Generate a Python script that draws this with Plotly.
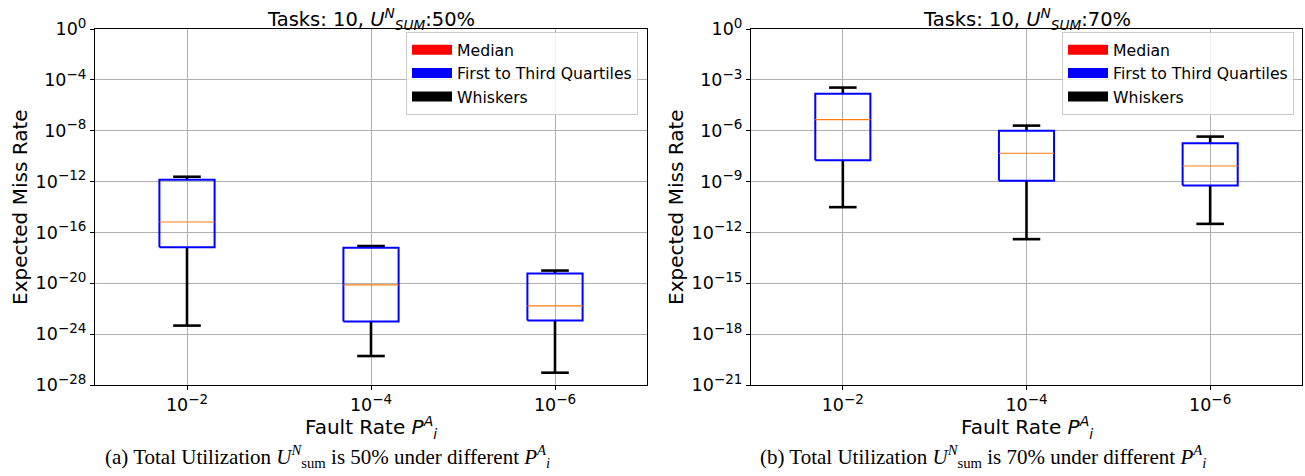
import plotly.graph_objects as go

# ---------------- data ----------------
categories = ["10<sup>−2</sup>", "10<sup>−4</sup>", "10<sup>−6</sup>"]

# Panel (a): U_sum = 50%
a_upper = [2.4e-12, 8.5e-18, 1.0e-19]
a_q3 = [1.4e-12, 6.3e-18, 5.8e-20]
a_median = [6.6e-16, 7.4e-21, 1.7e-22]
a_q1 = [6.8e-18, 1.0e-23, 1.2e-23]
a_lower = [4.7e-24, 1.9e-26, 9.3e-28]

# Panel (b): U_sum = 70%
b_upper = [3.5e-4, 2.0e-6, 4.5e-7]
b_q3 = [1.5e-4, 9.8e-7, 1.8e-7]
b_median = [4.5e-6, 4.7e-8, 8.3e-9]
b_q1 = [1.8e-8, 1.1e-9, 5.8e-10]
b_lower = [3.1e-11, 4.0e-13, 3.2e-12]

a_yticks_exp = [0, -4, -8, -12, -16, -20, -24, -28]
b_yticks_exp = [0, -3, -6, -9, -12, -15, -18, -21]

legend_names = ["Median", "First to Third Quartiles", "Whiskers"]
legend_colors = ["#ff0000", "#0000ff", "#000000"]

BOX_W = 0.3
CAP_W = 0.15

fig = go.Figure()


def add_panel(xa, ya, upper, q3, med, q1, lower, legend_id):
    wx, wy, bx, by, mx, my = [], [], [], [], [], []
    for i in range(len(med)):
        p = i + 1
        wx += [p, p, None, p - CAP_W / 2, p + CAP_W / 2, None,
               p, p, None, p - CAP_W / 2, p + CAP_W / 2, None]
        wy += [q3[i], upper[i], None, upper[i], upper[i], None,
               q1[i], lower[i], None, lower[i], lower[i], None]
        l, r = p - BOX_W / 2, p + BOX_W / 2
        bx += [l, r, r, l, l, None]
        by += [q1[i], q1[i], q3[i], q3[i], q1[i], None]
        mx += [l, r, None]
        my += [med[i], med[i], None]
    fig.add_trace(go.Scatter(x=wx, y=wy, mode="lines", xaxis=xa, yaxis=ya,
                             line=dict(color="black", width=2.6),
                             showlegend=False, hoverinfo="skip"))
    fig.add_trace(go.Scatter(x=bx, y=by, mode="lines", xaxis=xa, yaxis=ya,
                             line=dict(color="#0000ff", width=2),
                             showlegend=False, hoverinfo="skip"))
    fig.add_trace(go.Scatter(x=mx, y=my, mode="lines", xaxis=xa, yaxis=ya,
                             line=dict(color="#ff7f0e", width=1.2),
                             showlegend=False, hoverinfo="skip"))
    for name, col in zip(legend_names, legend_colors):
        fig.add_trace(go.Scatter(x=[None], y=[None], mode="lines", xaxis=xa, yaxis=ya,
                                 name=name, line=dict(color=col, width=14),
                                 legend=legend_id, showlegend=True))


add_panel("x", "y", a_upper, a_q3, a_median, a_q1, a_lower, "legend")
add_panel("x2", "y2", b_upper, b_q3, b_median, b_q1, b_lower, "legend2")

W, H = 1305, 476


def px_x(v):
    return v / W


def px_y(v):
    return 1 - v / H


def sup_label(base, exp_text, size):
    return '%s<sup><span style="font-size:%.1fpx">%s</span></sup>' % (base, size, exp_text)


TICK = 17.5
SUPSZ = 13.5
axis_font = dict(family="DejaVu Sans", size=TICK, color="black")
xtick_text = [sup_label("10", c.split("<sup>")[1].split("</sup>")[0], SUPSZ) for c in categories]

common_x = dict(range=[0.5, 3.5], tickvals=[1, 2, 3], ticktext=xtick_text,
                showgrid=True, gridcolor="#b0b0b0", gridwidth=1,
                showline=True, linecolor="black", linewidth=1.2, mirror=True,
                ticks="outside", ticklen=4, tickcolor="black", zeroline=False,
                tickfont=axis_font, automargin=False, fixedrange=True)


def y_axis(exps):
    return dict(type="log", range=[exps[-1], exps[0]],
                tickvals=[10.0 ** e for e in exps],
                ticktext=[sup_label("10", ("%d" % e).replace("-", "−"), SUPSZ) for e in exps],
                showgrid=True, gridcolor="#b0b0b0", gridwidth=1,
                showline=True, linecolor="black", linewidth=1.2, mirror=True,
                ticks="outside", ticklen=4, tickcolor="black", zeroline=False,
                tickfont=axis_font, automargin=False, fixedrange=True)


legend_font = dict(family="DejaVu Sans", size=15.7, color="black")
y_dom = [px_y(385), px_y(29)]
fig.update_layout(
    width=W, height=H,
    margin=dict(l=0, r=0, t=0, b=0),
    paper_bgcolor="white", plot_bgcolor="white",
    font=dict(family="DejaVu Sans", color="black"),
    xaxis=dict(domain=[px_x(95), px_x(647)], anchor="y", **common_x),
    yaxis=dict(domain=y_dom, anchor="x", **y_axis(a_yticks_exp)),
    xaxis2=dict(domain=[px_x(751), px_x(1302)], anchor="y2", **common_x),
    yaxis2=dict(domain=y_dom, anchor="x2", **y_axis(b_yticks_exp)),
    legend=dict(x=px_x(638), y=px_y(32), xanchor="right", yanchor="top",
                bgcolor="rgba(255,255,255,0.8)", bordercolor="#cccccc", borderwidth=1,
                font=legend_font, tracegroupgap=0, itemwidth=40),
    legend2=dict(x=px_x(1294), y=px_y(32), xanchor="right", yanchor="top",
                 bgcolor="rgba(255,255,255,0.8)", bordercolor="#cccccc", borderwidth=1,
                 font=legend_font, tracegroupgap=0, itemwidth=40),
    showlegend=True,
)

ann = []
title_font = dict(family="DejaVu Sans", size=19.5, color="black")
label_font = dict(family="DejaVu Sans", size=20, color="black")
ylabel_font = dict(family="DejaVu Sans", size=20, color="black")
cap_font = dict(family="Liberation Serif", size=21, color="black")

for cx, pct in [(371, "50%"), (1027, "70%")]:
    ann.append(dict(x=px_x(cx), y=px_y(19), xref="paper", yref="paper",
                    text="Tasks: 10, <i>U</i><sup><i>N</i></sup><sub><i>SUM</i></sub>:" + pct,
                    showarrow=False, font=title_font, xanchor="center", yanchor="middle"))
    ann.append(dict(x=px_x(cx), y=px_y(427), xref="paper", yref="paper",
                    text="Fault Rate <i>P</i><sup><i>A</i></sup><sub><i>i</i></sub>",
                    showarrow=False, font=label_font, xanchor="center", yanchor="middle"))

for cx in [20, 676]:
    ann.append(dict(x=px_x(cx), y=px_y(207), xref="paper", yref="paper",
                    text="Expected Miss Rate", textangle=-90,
                    showarrow=False, font=ylabel_font, xanchor="center", yanchor="middle"))

for cx, lab, pct in [(327, "(a)", "50%"), (983, "(b)", "70%")]:
    ann.append(dict(x=px_x(cx), y=px_y(456), xref="paper", yref="paper",
                    text=lab + " Total Utilization <i>U</i><sup><i>N</i></sup><sub>sum</sub> is "
                         + pct + " under different <i>P</i><sup><i>A</i></sup><sub><i>i</i></sub>",
                    showarrow=False, font=cap_font, xanchor="center", yanchor="middle"))

fig.update_layout(annotations=ann)

fig.write_html("out.html",
               config={"displayModeBar": False},
               post_script="document.body.style.margin='0px';document.body.style.overflow='hidden';")
